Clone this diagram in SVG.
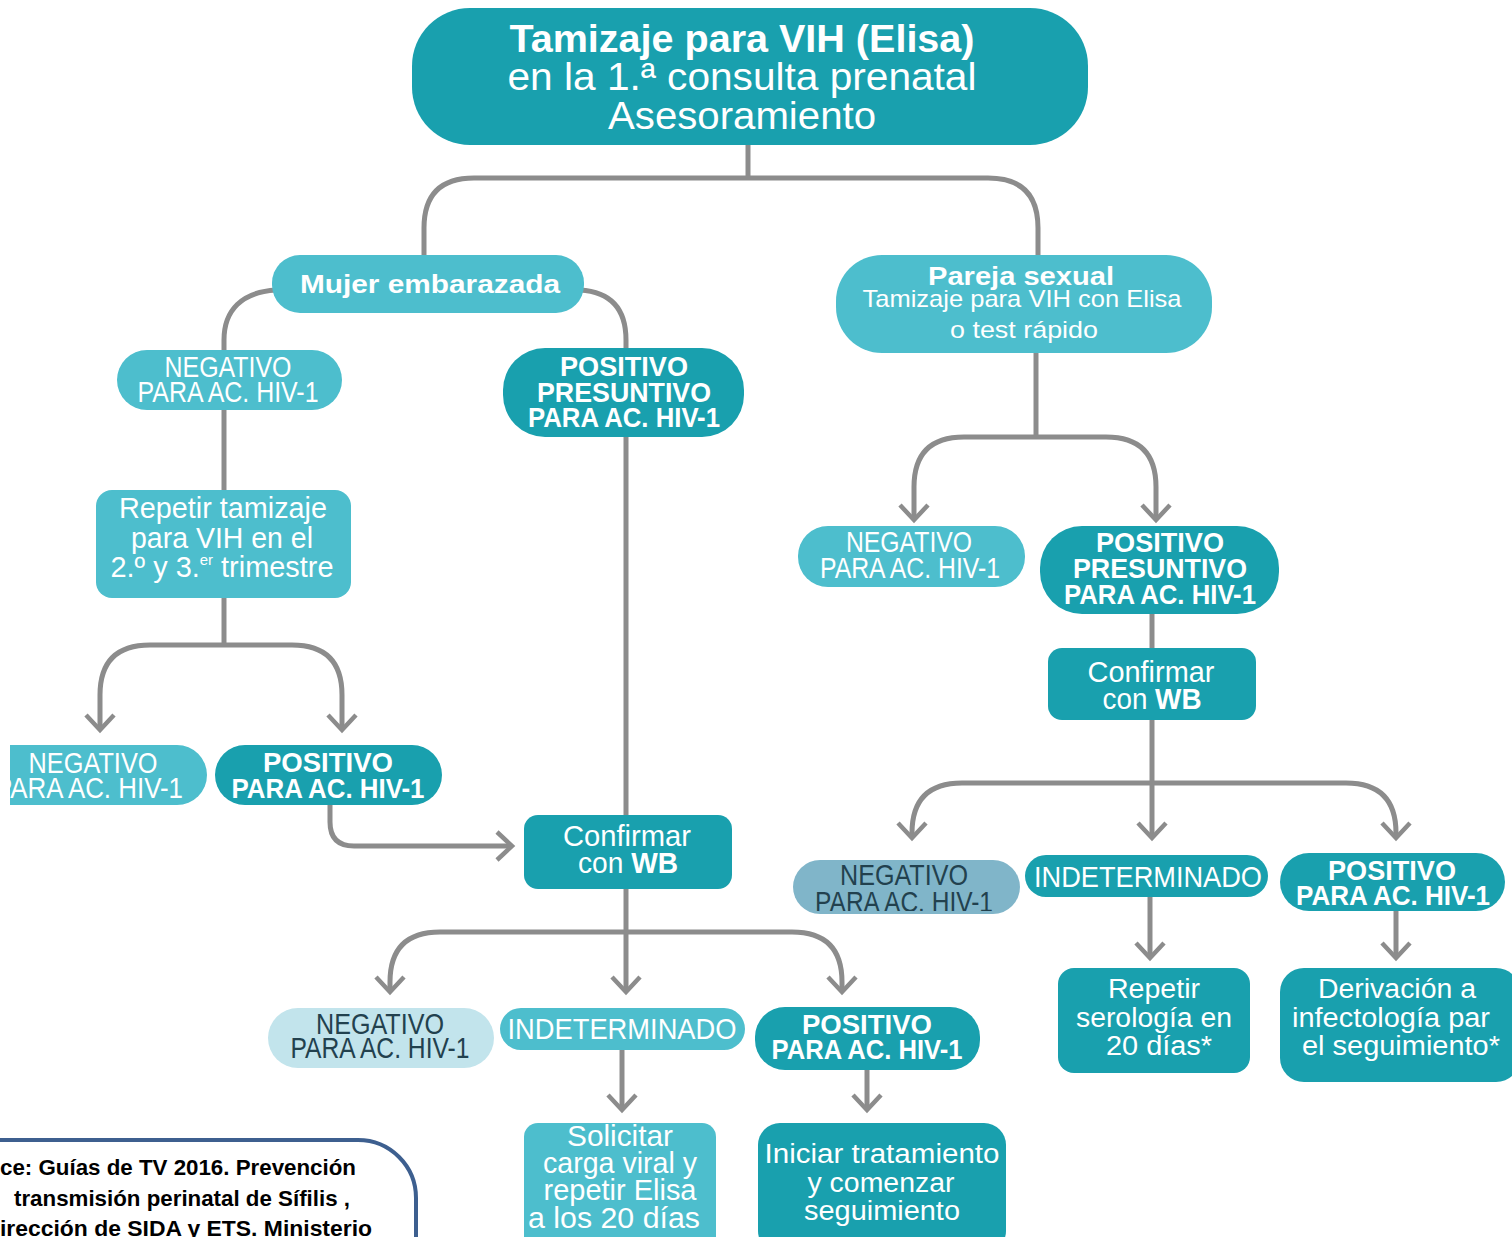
<svg xmlns="http://www.w3.org/2000/svg" width="1512" height="1237" viewBox="0 0 1512 1237">
  <style>
    .dk { fill: #19a0ae; }
    .lt { fill: #4dbecd; }
    .pale { fill: #c2e4ec; }
    .gb { fill: #80b5c9; }
    .t { font-family: "Liberation Sans", Arial, sans-serif; fill: #ffffff; text-anchor: middle; }
    .tb { font-weight: bold; }
    .td { fill: #22414e; }
    .ln { fill: none; stroke: #8c8c8c; stroke-width: 5; stroke-linecap: butt; }
    .foot { font-family: "Liberation Sans", Arial, sans-serif; font-weight: bold; fill: #000; font-size: 22px; }
  </style>
  <defs>
    <marker id="arr" markerUnits="userSpaceOnUse" markerWidth="40" markerHeight="40" viewBox="-20 -20 40 40" refX="0" refY="0" orient="auto">
      <path d="M-15,-14 L0,0 L-15,14" fill="none" stroke="#8c8c8c" stroke-width="4.5"/>
    </marker>
    <clipPath id="clipLeft"><rect x="10" y="700" width="400" height="150"/></clipPath>
    <clipPath id="clipGray"><rect x="780" y="840" width="260" height="71"/></clipPath>
  </defs>
  <rect width="1512" height="1237" fill="#ffffff"/>

  <!-- connectors -->
  <g id="connectors">
    <path class="ln" d="M748,145 V178"/>
    <path class="ln" d="M424,255 V228 Q424,178 474,178 H988 Q1038,178 1038,228 V255"/>
    <path class="ln" d="M276,290 C242,292 224,310 224,340 V350"/>
    <path class="ln" d="M580,290 C612,292 626,310 626,340 V348"/>
    <path class="ln" d="M224,410 V490"/>
    <path class="ln" d="M224,598 V645"/>
    <path class="ln" marker-end="url(#arr)" d="M224,645 H150 Q100,645 100,695 V730"/>
    <path class="ln" marker-end="url(#arr)" d="M224,645 H292 Q342,645 342,695 V730"/>
    <path class="ln" marker-end="url(#arr)" d="M330,805 V822 Q330,846 354,846 H512"/>
    <path class="ln" d="M626,437 V815"/>
    <path class="ln" marker-end="url(#arr)" d="M626,889 V992"/>
    <path class="ln" marker-end="url(#arr)" d="M626,932 H440 Q390,932 390,982 V992"/>
    <path class="ln" marker-end="url(#arr)" d="M626,932 H792 Q842,932 842,982 V992"/>
    <path class="ln" marker-end="url(#arr)" d="M622,1050 V1110"/>
    <path class="ln" marker-end="url(#arr)" d="M867,1070 V1110"/>
    <path class="ln" d="M1036,353 V437"/>
    <path class="ln" marker-end="url(#arr)" d="M1036,437 H964 Q914,437 914,487 V520"/>
    <path class="ln" marker-end="url(#arr)" d="M1036,437 H1106 Q1156,437 1156,487 V520"/>
    <path class="ln" d="M1152,614 V648"/>
    <path class="ln" marker-end="url(#arr)" d="M1152,720 V838"/>
    <path class="ln" marker-end="url(#arr)" d="M1152,783 H962 Q912,783 912,833 V838"/>
    <path class="ln" marker-end="url(#arr)" d="M1152,783 H1346 Q1396,783 1396,833 V838"/>
    <path class="ln" marker-end="url(#arr)" d="M1150,897 V958"/>
    <path class="ln" marker-end="url(#arr)" d="M1396,911 V958"/>
  </g>

  <!-- top -->
  <g id="n-tamizaje">
    <rect class="dk" x="412" y="8" width="676" height="137" rx="58"/>
    <text class="t tb" x="742" y="52" font-size="38" textLength="465" lengthAdjust="spacingAndGlyphs">Tamizaje para VIH (Elisa)</text>
    <text class="t" x="742" y="90" font-size="38" textLength="469" lengthAdjust="spacingAndGlyphs">en la 1.ª consulta prenatal</text>
    <text class="t" x="742" y="129" font-size="38" textLength="268" lengthAdjust="spacingAndGlyphs">Asesoramiento</text>
  </g>

  <!-- left branch -->
  <g id="n-mujer">
    <rect class="lt" x="272" y="255" width="312" height="58" rx="28"/>
    <text class="t tb" x="430" y="293" font-size="26" textLength="260" lengthAdjust="spacingAndGlyphs">Mujer embarazada</text>
  </g>
  <g id="n-neg1">
    <rect class="lt" x="117" y="350" width="225" height="60" rx="30"/>
    <text class="t" x="228" y="377" font-size="30" textLength="127" lengthAdjust="spacingAndGlyphs">NEGATIVO</text>
    <text class="t" x="228" y="402" font-size="30" textLength="181" lengthAdjust="spacingAndGlyphs">PARA AC. HIV-1</text>
  </g>
  <g id="n-pospres1">
    <rect class="dk" x="503" y="348" width="241" height="89" rx="42"/>
    <text class="t tb" x="624" y="376" font-size="28" textLength="128" lengthAdjust="spacingAndGlyphs">POSITIVO</text>
    <text class="t tb" x="624" y="402" font-size="28" textLength="174" lengthAdjust="spacingAndGlyphs">PRESUNTIVO</text>
    <text class="t tb" x="624" y="427" font-size="28" textLength="192" lengthAdjust="spacingAndGlyphs">PARA AC. HIV-1</text>
  </g>
  <g id="n-repetir">
    <rect class="lt" x="96" y="490" width="255" height="108" rx="16"/>
    <text class="t" x="223" y="518" font-size="29" textLength="208" lengthAdjust="spacingAndGlyphs">Repetir tamizaje</text>
    <text class="t" x="222" y="548" font-size="29" textLength="182" lengthAdjust="spacingAndGlyphs">para VIH en el</text>
    <text class="t" x="222" y="577" font-size="29" textLength="223" lengthAdjust="spacingAndGlyphs">2.º y 3.<tspan font-size="15" dy="-12">er</tspan><tspan dy="12"> trimestre</tspan></text>
  </g>
  <g id="n-neg2" clip-path="url(#clipLeft)">
    <rect class="lt" x="-30" y="745" width="237" height="60" rx="30"/>
    <text class="t" x="93" y="773" font-size="30" textLength="129" lengthAdjust="spacingAndGlyphs">NEGATIVO</text>
    <text class="t" x="89" y="798" font-size="30" textLength="188" lengthAdjust="spacingAndGlyphs">PARA AC. HIV-1</text>
  </g>
  <g id="n-pos2">
    <rect class="dk" x="215" y="745" width="227" height="60" rx="30"/>
    <text class="t tb" x="328" y="772" font-size="28" textLength="130" lengthAdjust="spacingAndGlyphs">POSITIVO</text>
    <text class="t tb" x="328" y="798" font-size="28" textLength="193" lengthAdjust="spacingAndGlyphs">PARA AC. HIV-1</text>
  </g>
  <g id="n-confirm1">
    <rect class="dk" x="524" y="815" width="208" height="74" rx="14"/>
    <text class="t" x="627" y="846" font-size="29" textLength="128" lengthAdjust="spacingAndGlyphs">Confirmar</text>
    <text class="t" x="628" y="873" font-size="29" textLength="100" lengthAdjust="spacingAndGlyphs">con <tspan class="tb">WB</tspan></text>
  </g>
  <g id="n-neg3">
    <rect class="pale" x="268" y="1008" width="226" height="60" rx="30"/>
    <text class="t td" x="380" y="1034" font-size="30" textLength="128" lengthAdjust="spacingAndGlyphs">NEGATIVO</text>
    <text class="t td" x="380" y="1058" font-size="30" textLength="179" lengthAdjust="spacingAndGlyphs">PARA AC. HIV-1</text>
  </g>
  <g id="n-indet1">
    <rect class="lt" x="500" y="1008" width="245" height="42" rx="21"/>
    <text class="t" x="622" y="1039" font-size="29" textLength="229" lengthAdjust="spacingAndGlyphs">INDETERMINADO</text>
  </g>
  <g id="n-pos3">
    <rect class="dk" x="755" y="1007" width="225" height="63" rx="30"/>
    <text class="t tb" x="867" y="1034" font-size="28" textLength="130" lengthAdjust="spacingAndGlyphs">POSITIVO</text>
    <text class="t tb" x="867" y="1059" font-size="28" textLength="191" lengthAdjust="spacingAndGlyphs">PARA AC. HIV-1</text>
  </g>
  <g id="n-solicitar">
    <rect class="lt" x="524" y="1123" width="192" height="130" rx="14"/>
    <text class="t" x="620" y="1146" font-size="29" textLength="106" lengthAdjust="spacingAndGlyphs">Solicitar</text>
    <text class="t" x="620" y="1173" font-size="29" textLength="154" lengthAdjust="spacingAndGlyphs">carga viral y</text>
    <text class="t" x="620" y="1200" font-size="29" textLength="153" lengthAdjust="spacingAndGlyphs">repetir Elisa</text>
    <text class="t" x="614" y="1228" font-size="29" textLength="172" lengthAdjust="spacingAndGlyphs">a los 20 días</text>
  </g>
  <g id="n-iniciar">
    <rect class="dk" x="758" y="1123" width="248" height="130" rx="22"/>
    <text class="t" x="882" y="1163" font-size="27" textLength="235" lengthAdjust="spacingAndGlyphs">Iniciar tratamiento</text>
    <text class="t" x="881" y="1192" font-size="27" textLength="147" lengthAdjust="spacingAndGlyphs">y comenzar</text>
    <text class="t" x="882" y="1220" font-size="27" textLength="156" lengthAdjust="spacingAndGlyphs">seguimiento</text>
  </g>

  <!-- right branch -->
  <g id="n-pareja">
    <rect class="lt" x="836" y="255" width="376" height="98" rx="46"/>
    <text class="t tb" x="1021" y="285" font-size="26" textLength="186" lengthAdjust="spacingAndGlyphs">Pareja sexual</text>
    <text class="t" x="1022" y="307" font-size="24" textLength="319" lengthAdjust="spacingAndGlyphs">Tamizaje para VIH con Elisa</text>
    <text class="t" x="1024" y="338" font-size="24" textLength="148" lengthAdjust="spacingAndGlyphs">o test rápido</text>
  </g>
  <g id="n-neg4">
    <rect class="lt" x="798" y="526" width="227" height="61" rx="30"/>
    <text class="t" x="909" y="552" font-size="30" textLength="126" lengthAdjust="spacingAndGlyphs">NEGATIVO</text>
    <text class="t" x="910" y="578" font-size="30" textLength="180" lengthAdjust="spacingAndGlyphs">PARA AC. HIV-1</text>
  </g>
  <g id="n-pospres2">
    <rect class="dk" x="1040" y="526" width="239" height="88" rx="42"/>
    <text class="t tb" x="1160" y="552" font-size="28" textLength="128" lengthAdjust="spacingAndGlyphs">POSITIVO</text>
    <text class="t tb" x="1160" y="578" font-size="28" textLength="174" lengthAdjust="spacingAndGlyphs">PRESUNTIVO</text>
    <text class="t tb" x="1160" y="604" font-size="28" textLength="192" lengthAdjust="spacingAndGlyphs">PARA AC. HIV-1</text>
  </g>
  <g id="n-confirm2">
    <rect class="dk" x="1048" y="648" width="208" height="72" rx="14"/>
    <text class="t" x="1151" y="682" font-size="29" textLength="127" lengthAdjust="spacingAndGlyphs">Confirmar</text>
    <text class="t" x="1152" y="709" font-size="29" textLength="99" lengthAdjust="spacingAndGlyphs">con <tspan class="tb">WB</tspan></text>
  </g>
  <g id="n-neg5">
    <rect class="gb" x="793" y="860" width="227" height="54" rx="27"/>
    <g clip-path="url(#clipGray)">
      <text class="t td" x="904" y="885" font-size="30" textLength="128" lengthAdjust="spacingAndGlyphs">NEGATIVO</text>
      <text class="t td" x="904" y="912" font-size="30" textLength="178" lengthAdjust="spacingAndGlyphs">PARA AC. HIV-1</text>
    </g>
  </g>
  <g id="n-indet2">
    <rect class="dk" x="1025" y="855" width="243" height="42" rx="21"/>
    <text class="t" x="1148" y="887" font-size="29" textLength="228" lengthAdjust="spacingAndGlyphs">INDETERMINADO</text>
  </g>
  <g id="n-pos4">
    <rect class="dk" x="1280" y="853" width="225" height="58" rx="29"/>
    <text class="t tb" x="1392" y="880" font-size="28" textLength="128" lengthAdjust="spacingAndGlyphs">POSITIVO</text>
    <text class="t tb" x="1393" y="905" font-size="28" textLength="194" lengthAdjust="spacingAndGlyphs">PARA AC. HIV-1</text>
  </g>
  <g id="n-serologia">
    <rect class="dk" x="1058" y="968" width="192" height="105" rx="16"/>
    <text class="t" x="1154" y="998" font-size="27" textLength="92" lengthAdjust="spacingAndGlyphs">Repetir</text>
    <text class="t" x="1154" y="1027" font-size="27" textLength="156" lengthAdjust="spacingAndGlyphs">serología en</text>
    <text class="t" x="1159" y="1055" font-size="27" textLength="106" lengthAdjust="spacingAndGlyphs">20 días*</text>
  </g>
  <g id="n-derivacion">
    <rect class="dk" x="1280" y="968" width="240" height="114" rx="24"/>
    <text class="t" x="1397" y="998" font-size="27" textLength="158" lengthAdjust="spacingAndGlyphs">Derivación a</text>
    <text class="t" x="1391" y="1027" font-size="27" textLength="198" lengthAdjust="spacingAndGlyphs">infectología par</text>
    <text class="t" x="1401" y="1055" font-size="27" textLength="198" lengthAdjust="spacingAndGlyphs">el seguimiento*</text>
  </g>

  <!-- source note -->
  <g id="source-note">
    <path d="M-10,1140 H358 A58,58 0 0 1 416,1198 V1245" fill="#ffffff" stroke="#3d5f8f" stroke-width="4"/>
    <text class="foot" x="0" y="1175" textLength="356" lengthAdjust="spacingAndGlyphs">ce: Guías de TV 2016. Prevención</text>
    <text class="foot" x="14" y="1206" textLength="336" lengthAdjust="spacingAndGlyphs">transmisión perinatal de Sífilis ,</text>
    <text class="foot" x="0" y="1236" textLength="372" lengthAdjust="spacingAndGlyphs">irección de SIDA y ETS. Ministerio</text>
  </g>
</svg>
